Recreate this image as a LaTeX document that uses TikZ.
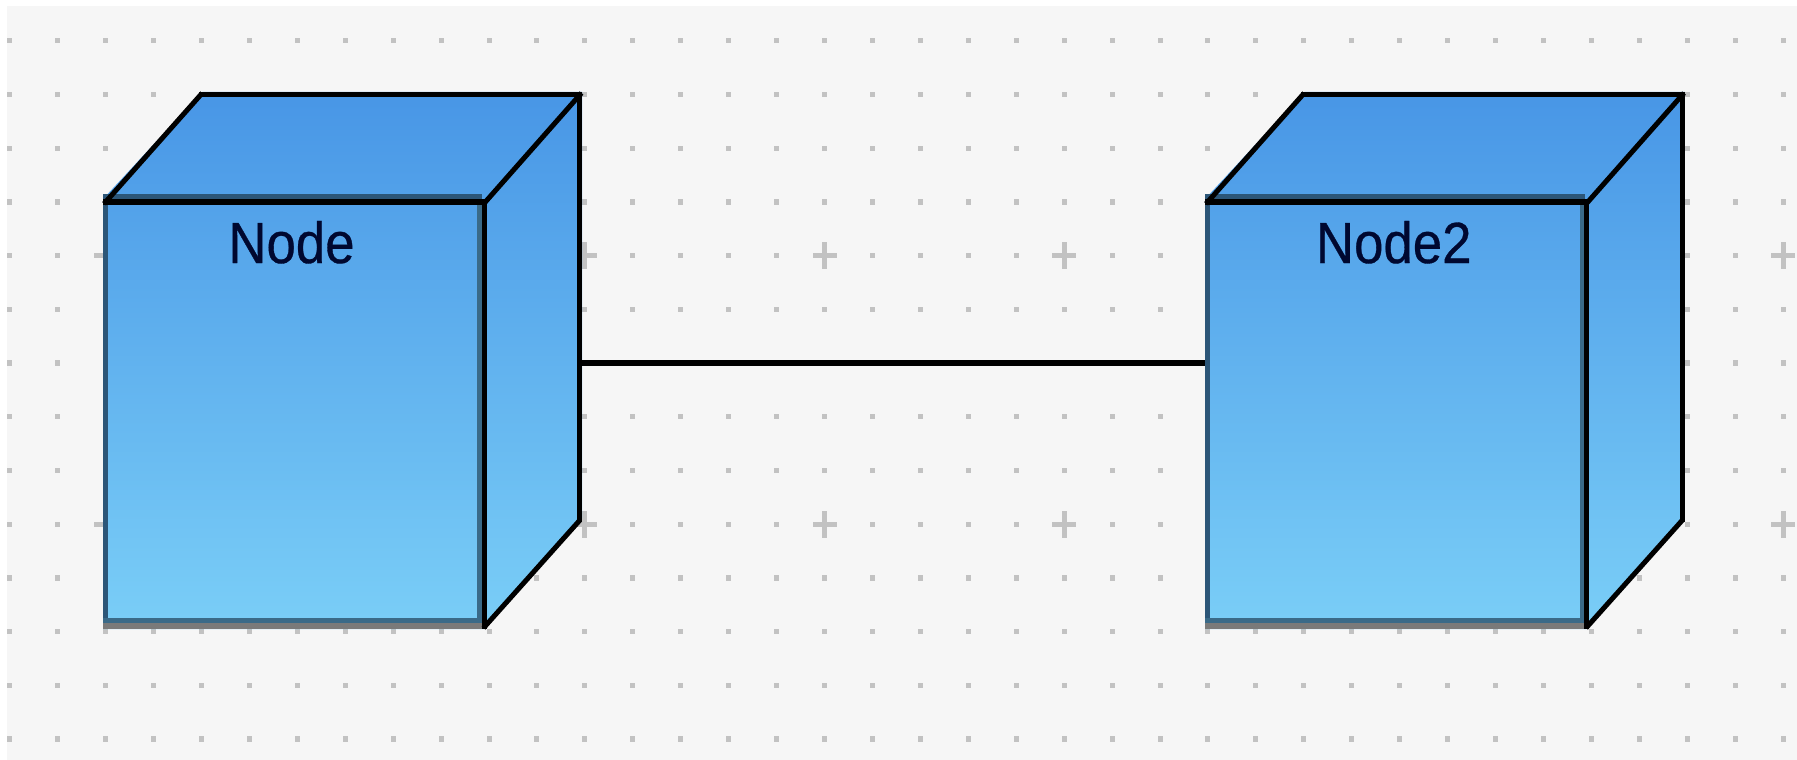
\documentclass[tikz,border=0pt]{standalone}
\usepackage{fontspec}
\setmainfont{Liberation Sans}
\newfontfamily\cubefont[FakeBold=0.6]{Liberation Sans}
\definecolor{canvas}{HTML}{F6F6F6}
\definecolor{griddot}{HTML}{C2C2C2}
\definecolor{gradtop}{HTML}{4896E6}
\definecolor{gradbot}{HTML}{7ACEF7}
\definecolor{frontedge}{HTML}{2C5678}
\definecolor{frontedgelow}{HTML}{3A6A88}
\definecolor{shadowedge}{HTML}{7A7A7A}
\definecolor{labelink}{HTML}{000830}
\tikzset{
  griddotmark/.style={fill=griddot,draw=none},
  cubeedge/.style={draw=black,line width=5pt,line cap=butt,line join=miter},
  cubetopedge/.style={draw=black,line width=6pt,line cap=butt},
  cubediag/.style={draw=black,line width=5pt,line cap=butt},
  cubelabel/.style={anchor=base,inner sep=0pt,text=labelink,font=\cubefont\fontsize{58}{60}\selectfont},
  connector/.style={draw=black,line width=6pt},
}
\newcommand{\cube}[4]{%
  % #1 name, #2 front left, #3 inner black right edge, #4 text
  \pgfmathsetmacro{\fl}{#2}\pgfmathsetmacro{\fr}{#3}%
  \pgfmathsetmacro{\bl}{#2+96}\pgfmathsetmacro{\br}{#3+95.5}%
  \shade[top color=gradtop,bottom color=gradbot]
    (\fl,629)--(\fl,199)--(\fl+99.3,92)--(\br+2.5,92)--(\br+2.5,518)--(\fr,629)--cycle;
  \fill[frontedge] (\fl,194) rectangle (\fr-2,199);
  \fill[frontedge] (\fl,199) rectangle (\fl+5,623);
  \fill[frontedgelow] (\fr-7,199) rectangle (\fr-2,623);
  \fill[frontedgelow] (\fl,618) rectangle (\fr-2,623);
  \fill[shadowedge] (\fl,623) rectangle (\fr-2,629);
  \draw[cubediag] (\fl+1,203.8)--(\fl+99.3,93);
  \draw[cubediag] (\fr,203.5)--(\fr+97.5,93);
  \draw[cubediag] (\fr-.5,628)--(\fr+96,520);
  \draw[cubetopedge] (\fl,202)--(\fr+2.5,202);
  \draw[cubeedge] (\fr,199)--(\fr,629);
  \draw[cubeedge] (\bl,94.5)--(\br+2.5,94.5);
  \draw[cubeedge] (\br,92)--(\br,522);
  \node[cubelabel] (#1) at ({(\fl+\fr)/2-2},263) {\scalebox{0.91}[1]{#4}};
}
\begin{document}
\begin{tikzpicture}[x=1pt,y=-1pt]
\useasboundingbox (0,0) rectangle (1797,760);
\fill[white] (0,0) rectangle (1797,760);
\begin{scope}
\clip (7,6) rectangle (1797,760);
\fill[canvas] (7,6) rectangle (1797,760);
\foreach \r in {0,...,13}{
  \foreach \c in {0,...,37}{
    \fill[griddotmark] ({9.7+47.93*\c-2.5},{40.7+53.72*\r-2.6}) rectangle ++(5,5.3);
  }
}
\foreach \r in {4,9}{
  \foreach \c in {2,7,...,37}{
    \fill[griddotmark] ({9.7+47.93*\c-12},{40.7+53.72*\r-2.6}) rectangle ++(24,5.3);
    \fill[griddotmark] ({9.7+47.93*\c-2.5},{40.7+53.72*\r-13.5}) rectangle ++(5,27);
  }
}
\end{scope}
\cube{nodeone}{103}{484}{Node}
\cube{nodetwo}{1205}{1586.5}{Node2}
\coordinate (linkstart) at (582,363);
\coordinate (linkend) at (1205,363);
\draw[connector] (linkstart) -- (linkend);
\end{tikzpicture}
\end{document}
